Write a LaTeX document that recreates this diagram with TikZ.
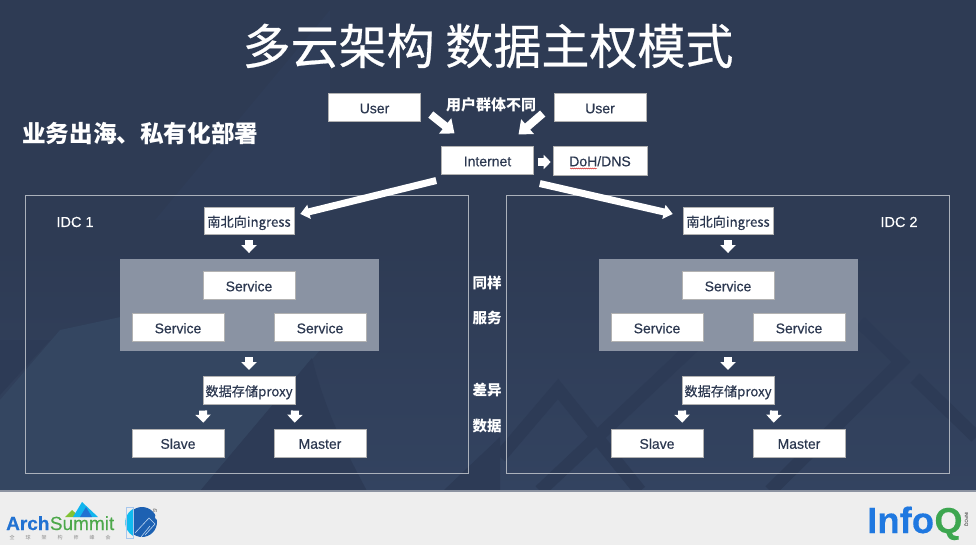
\documentclass[tikz,border=0pt]{standalone}
\usepackage{fontspec}
\setmainfont[RawFeature={embolden=0.3}]{Liberation Sans}
\newfontfamily\cjk{Noto Sans CJK SC}
\newfontfamily\cjkmid[RawFeature={embolden=0.5}]{Noto Sans CJK SC}
\newfontfamily\cjkbody[RawFeature={embolden=0.2}]{Noto Sans CJK SC}
\usetikzlibrary{arrows.meta}
\usetikzlibrary{calc}
\usetikzlibrary{decorations.pathmorphing}
\definecolor{slate}{HTML}{2E3B54}
\definecolor{slatelow}{HTML}{334360}
\definecolor{slatelight}{HTML}{344661}
\definecolor{slatedark}{HTML}{2D3B56}
\definecolor{ink}{HTML}{2C3850}
\definecolor{panel}{HTML}{8A93A3}
\definecolor{footer}{HTML}{EEEEEE}
\definecolor{archblue}{HTML}{2272D2}
\definecolor{archgreen}{HTML}{4CA84A}
\definecolor{qblue}{HTML}{1F78E0}
\definecolor{qgreen}{HTML}{3DA650}
\begin{document}
\begin{tikzpicture}[x=1pt,y=-1pt,
    whitebox/.style={draw=black!30,line width=.6pt,fill=white,text=ink,minimum width=92pt,minimum height=27.5pt,inner sep=0pt,text height=11.5pt,text depth=0pt,font=\fontsize{14}{16}\selectfont},
    cjkbox/.style={whitebox,font=\fontsize{13.2}{15}\selectfont\cjkbody},
    blockdown/.style={-{Triangle[length=8pt,width=15pt]},line width=8pt,white},
    blockdiag/.style={-{Triangle[length=12pt,width=19pt]},line width=8pt,white},
    longarrow/.style={-{Triangle[length=9pt,width=14pt]},line width=7pt,white},
    sidelabel/.style={white,font=\fontsize{14.5}{18}\selectfont\bfseries\cjk,inner sep=0pt},
    chevron/.style={slatedark,line width=13pt}]
  \useasboundingbox (0,0) rectangle (976,545);
  \shade[top color=slate,bottom color=slatelow,middle color=slate] (0,0) rectangle (976,491);
  % faint shapes behind the slide
  \fill[slatelight] (0,400) -- (60,330) -- (200,300) -- (320,350) -- (200,491) -- (0,491) -- cycle;
  \fill[slatelow!30!slate] (155,220) -- (330,10) -- (330,220) -- cycle;
  \fill[slatedark] (200,491) -- (312,358) .. controls (325,410) and (345,450) .. (367,491) -- cycle;
  \fill[slatedark] (0,395) -- (50,340) -- (0,340) -- cycle;
  \fill[slatedark] (443,491) -- (500,437) -- (500,491) -- cycle;
  \draw[chevron] (500,457) -- (558,389) -- (640,491);
  \draw[chevron] (540,491) -- (700,340);
  \draw[chevron] (770,491) -- (901,362) -- (860,322);
  \draw[chevron] (915,378) -- (976,437);
  \fill[white!45!slate] (0,490) rectangle (976,491.5);
  \fill[footer] (0,491.5) rectangle (976,545);

  \node[white,font=\fontsize{48}{52}\selectfont\cjkmid,inner sep=0pt] (title) at (488,46) {多云架构 数据主权模式};
  \node[white,font=\fontsize{23.6}{26}\selectfont\bfseries\cjk,inner sep=0pt,anchor=west] (subtitle) at (22,133) {业务出海、私有化部署};

  \node[whitebox] (userl) at (374.5,107.5) {User};
  \node[whitebox] (userr) at (600,107.5) {User};
  \node[white,font=\fontsize{15}{17}\selectfont\bfseries\cjk,inner sep=0pt] (diff) at (491,105) {用户群体不同};
  \node[whitebox] (internet) at (487.5,160.5) {Internet};
  \node[whitebox,minimum width=94pt,minimum height=29pt] (doh) at (600,160.5) {DoH/DNS};
  \draw[red!80!black,line width=.4pt,decorate,decoration={snake,amplitude=.5pt,segment length=2pt}]
    ($(doh.center)+(-30,8)$) -- ($(doh.center)+(-3,8)$);

  \draw[blockdiag] ($(userl.south east)+(10,-7)$) -- ($(internet.north)+(-33,-13)$);
  \draw[blockdiag] ($(userr.south west)+(-11,-8)$) -- ($(internet.north)+(31,-12)$);
  \draw[-{Triangle[length=7pt,width=14pt]},line width=8pt,white] ($(internet.east)+(4,1.5)$) -- ($(doh.west)+(-2,1.5)$);

  \foreach \side/\dx/\fx/\idc/\lx in {l/0/0/IDC 1/75,r/479/481/IDC 2/899} {
    \draw[white!60!slate,line width=.9pt] (25+\fx,195) rectangle (468+\fx,473);
    \node[white,font=\fontsize{14.5}{17}\selectfont,inner sep=0pt] (idc\side) at (\lx,222) {\idc};
    \node[cjkbox,minimum width=90pt] (ingress\side) at (249+\dx,221) {南北向ingress};
    \fill[panel] (120+\dx,259) rectangle (379+\dx,351);
    \node[whitebox] (top\side) at (249+\dx,285.5) {Service};
    \node[whitebox] (svca\side) at (178+\dx,327.5) {Service};
    \node[whitebox] (svcb\side) at (320+\dx,327.5) {Service};
    \node[cjkbox] (proxy\side) at (249+\dx,390.5) {数据存储proxy};
    \node[whitebox,minimum height=28pt] (slave\side) at (178+\dx,443) {Slave};
    \node[whitebox,minimum height=28pt] (master\side) at (320+\dx,443) {Master};
    \coordinate (panelbot\side) at (249+\dx,351);
    \draw[blockdown] ($(ingress\side.south)+(0,5)$) -- ($(ingress\side.south)+(0,18)$);
    \draw[blockdown] ($(panelbot\side)+(0,6)$) -- ($(panelbot\side)+(0,19)$);
    \draw[blockdown] ($(proxy\side.south)+(-46,6)$) -- ($(slave\side.north east)+(-21,-6)$);
    \draw[blockdown] ($(proxy\side.south)+(46,6)$) -- ($(master\side.north west)+(21,-6)$);
  }
  \draw[longarrow] ($(internet.south west)+(-5,6)$) -- ($(ingressl.north east)+(6,7)$);
  \draw[longarrow] ($(internet.south east)+(6,9)$) -- ($(ingressr.north west)+(-10,7)$);

  \node[sidelabel] (same) at (487,283) {同样};
  \node[sidelabel] (service) at (487,318) {服务};
  \node[sidelabel] (delta) at (487,390) {差异};
  \node[sidelabel] (data) at (487,426) {数据};

  % logos
  \fill[archgreen!70!yellow] (65,517) -- (72,510) -- (80,517) -- cycle;
  \fill[qblue!55!cyan] (73,517) -- (82,502) -- (98,517) -- cycle;
  \fill[archblue] (80,517) -- (86,507) -- (92,517) -- cycle;
  \node[archblue,font=\fontsize{19}{22}\selectfont\bfseries,inner sep=0pt,anchor=base west] (arch) at (6,530) {Arch};
  \node[archgreen,font=\fontsize{19}{22}\selectfont,inner sep=0pt,anchor=base west] (summit) at (arch.base east) {Summit};
  \node[black!45,font=\fontsize{5}{6}\selectfont\cjk,inner sep=0pt] (archsub) at (60,537.5) {全\hspace{11pt}球\hspace{11pt}架\hspace{11pt}构\hspace{11pt}师\hspace{11pt}峰\hspace{11pt}会};
  \fill[archblue!85!black] (142,522) circle (15pt);
  \fill[footer] (158,517) circle (3pt);
  \fill[qblue!50!cyan] (133,509) arc (240:120:15.5) -- cycle;
  \draw[archblue!40!white,line width=.7pt] (126,507) rectangle (133.5,538);
  \draw[white!70!archblue,line width=.6pt] (135,533) -- (149,518) -- (155,524) -- (145,535);
  \draw[white!70!archblue,line width=.6pt] (141,537) -- (150,526);
  \node[black!40,font=\fontsize{5}{6}\selectfont,inner sep=0pt] (tenth) at (155,510) {th};
  \node[qblue,font=\fontsize{36.5}{38}\selectfont\bfseries,inner sep=0pt,anchor=base west] (info) at (867,533) {Info};
  \node[qgreen,font=\fontsize{36}{38}\selectfont\bfseries,inner sep=0pt,anchor=base west] (q) at (info.base east) {Q};
  \node[black!50,rotate=-90,font=\fontsize{4.5}{5}\selectfont,inner sep=0pt] (qsub) at (966,519) {INFOQ};
\end{tikzpicture}
\end{document}
